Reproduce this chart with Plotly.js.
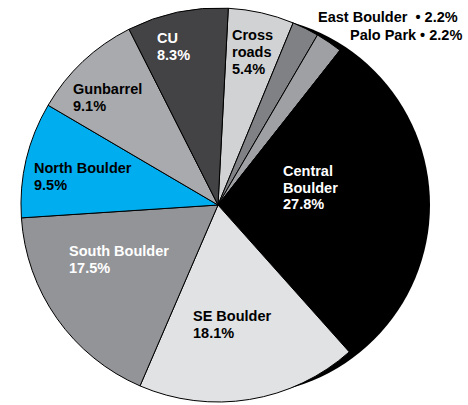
<!DOCTYPE html>
<html>
<head>
<meta charset="utf-8">
<script src="https://cdn.plot.ly/plotly-3.0.1.min.js"></script>
<style>html,body{margin:0;padding:0;background:#fff;}#chart{width:468px;height:405px;}</style>
</head>
<body>
<div id="chart"></div>
<script>
// Data (clockwise from 12 o'clock)
var areas = ['Crossroads', 'East Boulder', 'Palo Park', 'Central Boulder', 'SE Boulder', 'South Boulder', 'North Boulder', 'Gunbarrel', 'CU'];
var shares = [5.4, 2.2, 2.2, 27.8, 18.1, 17.5, 9.5, 9.1, 8.3];
var labelLines = [['Cross', 'roads'], ['East Boulder\u00a0\u00a0•'], ['Palo Park •'], ['Central', 'Boulder'], ['SE Boulder'], ['South Boulder'], ['North Boulder'], ['Gunbarrel'], ['CU']];

// Styles / layout (not data)
var sliceColors = ['#D1D2D4', '#808184', '#9FA0A3', '#000000', '#E1E2E3', '#939497', '#00AEEF', '#A9AAAD', '#434244'];
var textColors = ['#000', '#000', '#000', '#fff', '#000', '#fff', '#000', '#000', '#fff'];
var outside = [false, true, true, false, false, false, false, false, false];
// label anchor in px: [x (left edge, or right edge for outside labels), first baseline]
var labelPos = [[232.3, 40], [458.3, 21.7], [461.7, 40], [283.3, 175.7], [193.3, 321], [69, 256], [34.3, 173.3], [73.3, 94.3], [156.7, 43]];
var lineStep = 16.8;
var fontSize = 14.5;

var W = 468, H = 405;
var cx = 218, cy = 205, r = 197;

var annotations = [];
areas.forEach(function (a, i) {
  var pct = shares[i].toFixed(1) + '%';
  var lines = outside[i] ? [labelLines[i][0] + ' ' + pct] : labelLines[i].concat([pct]);
  lines.forEach(function (ln, k) {
    var base = labelPos[i][1] + k * lineStep;
    annotations.push({
      xref: 'paper', yref: 'paper',
      x: (outside[i] ? labelPos[i][0] + 2 : labelPos[i][0] - 2) / W,
      y: 1 - (base - 5) / H,
      xanchor: outside[i] ? 'right' : 'left', yanchor: 'middle',
      showarrow: false,
      text: '<b>' + ln + '</b>',
      font: {family: 'Liberation Sans, Arial, sans-serif', size: fontSize, color: textColors[i]}
    });
  });
});

var trace = {
  type: 'pie',
  labels: areas,
  values: shares,
  sort: false,
  direction: 'clockwise',
  rotation: 3,
  textinfo: 'none',
  hoverinfo: 'label+percent',
  marker: {colors: sliceColors, line: {color: '#000', width: 1}},
  domain: {x: [(cx - r) / W, (cx + r) / W], y: [(H - cy - r) / H, (H - cy + r) / H]},
  showlegend: false
};

var layout = {
  width: W, height: H,
  margin: {l: 0, r: 0, t: 0, b: 0},
  paper_bgcolor: '#fff',
  showlegend: false,
  annotations: annotations,
  shapes: [{
    type: 'circle', xref: 'paper', yref: 'paper', layer: 'below',
    x0: (240 - 190) / W, x1: 430 / W,
    y0: (H - cy - 190) / H, y1: (H - cy + 190) / H,
    fillcolor: '#000', line: {width: 0}
  }]
};

Plotly.newPlot('chart', [trace], layout, {displayModeBar: false, staticPlot: true});
</script>
</body>
</html>
